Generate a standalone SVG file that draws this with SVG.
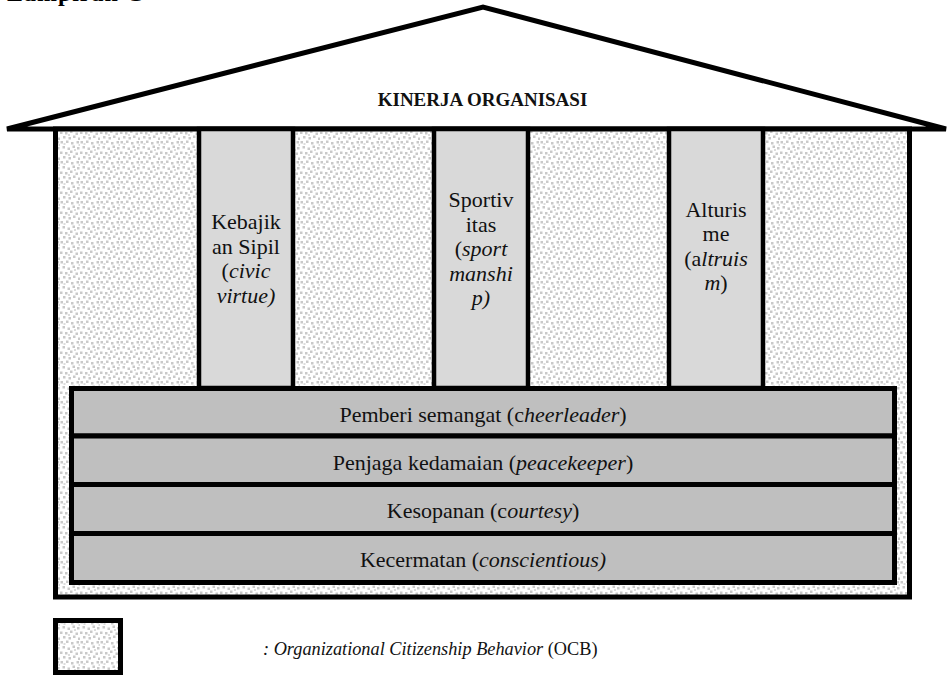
<svg xmlns="http://www.w3.org/2000/svg" width="947" height="676" viewBox="0 0 947 676">
<defs>
<pattern id="stip" width="20" height="20" patternUnits="userSpaceOnUse">
<rect width="20" height="20" fill="#ffffff"/>
<g fill="#c9c9c9">
<rect x="0.5" y="1" width="2.5" height="2.5"/><rect x="6" y="0.5" width="2.5" height="2.5"/><rect x="11" y="2" width="2.5" height="2.5"/><rect x="16.5" y="1" width="2.5" height="2.5"/>
<rect x="2.5" y="6" width="2.5" height="2.5"/><rect x="7.5" y="7.5" width="2.5" height="2.5"/><rect x="12.5" y="5.5" width="2.5" height="2.5"/><rect x="17" y="7" width="2.5" height="2.5"/>
<rect x="0" y="11.5" width="2.5" height="2.5"/><rect x="5" y="12" width="2.5" height="2.5"/><rect x="10" y="10.5" width="2.5" height="2.5"/><rect x="15.5" y="12.5" width="2.5" height="2.5"/>
<rect x="3" y="16" width="2.5" height="2.5"/><rect x="8.5" y="17" width="2.5" height="2.5"/><rect x="13" y="15.5" width="2.5" height="2.5"/><rect x="18" y="17.5" width="2" height="2.5"/>
</g>
<g fill="#dcdcdc">
<rect x="3.5" y="3" width="2" height="2"/><rect x="14" y="9" width="2" height="2"/><rect x="8" y="14" width="2" height="2"/><rect x="18.5" y="4" width="1.5" height="2"/>
</g>
</pattern>
<style>
.t{font-family:"Liberation Serif","Times New Roman",serif;font-size:22px;fill:#111;}
.i{font-style:italic;}
.pil{fill:#d9d9d9;stroke:#000;stroke-width:4.5;}
.bar{fill:#bfbfbf;stroke:#000;stroke-width:5;}
</style>
</defs>
<rect width="947" height="676" fill="#ffffff"/>
<text x="7" y="1" font-family="'Liberation Serif',serif" font-weight="bold" font-size="24" textLength="136" fill="#000">Lampiran C</text>

<g id="roof">
<polygon points="7,129 483,7 946,129" fill="#ffffff" stroke="#000" stroke-width="5"/>
<text x="482.5" y="106" text-anchor="middle" font-family="'Liberation Serif',serif" font-weight="bold" font-size="19" fill="#111">KINERJA ORGANISASI</text>
</g>

<g id="building">
<rect x="55.5" y="129" width="854" height="468" fill="url(#stip)" stroke="#000" stroke-width="5"/>
</g>

<g id="pillar-civic">
<rect class="pil" x="199" y="129" width="94" height="259"/>
<text class="t" text-anchor="middle"><tspan x="246" y="229">Kebajik</tspan><tspan x="246" y="253.5">an Sipil</tspan><tspan x="246" y="278">(<tspan class="i">civic</tspan></tspan><tspan x="246" y="302.5" class="i">virtue)</tspan></text>
</g>

<g id="pillar-sportsmanship">
<rect class="pil" x="434" y="129" width="94" height="259"/>
<text class="t" text-anchor="middle"><tspan x="481" y="207">Sportiv</tspan><tspan x="481" y="231.5">itas</tspan><tspan x="481" y="256">(<tspan class="i">sport</tspan></tspan><tspan x="481" y="280.5" class="i">manshi</tspan><tspan x="481" y="305" class="i">p)</tspan></text>
</g>

<g id="pillar-altruism">
<rect class="pil" x="669" y="129" width="94" height="259"/>
<text class="t" text-anchor="middle"><tspan x="716" y="216.5">Alturis</tspan><tspan x="716" y="241">me</tspan><tspan x="716" y="265.5">(a<tspan class="i">ltruis</tspan></tspan><tspan x="716" y="290"><tspan class="i">m</tspan>)</tspan></text>
</g>

<g id="bar-cheerleader">
<rect class="bar" x="71.5" y="388.5" width="823" height="47.5"/>
<text class="t" x="483" y="421.5" text-anchor="middle">Pemberi semangat (c<tspan class="i">heerleader</tspan>)</text>
</g>
<g id="bar-peacekeeper">
<rect class="bar" x="71.5" y="436" width="823" height="48.5"/>
<text class="t" x="483" y="469.5" text-anchor="middle">Penjaga kedamaian (<tspan class="i">peacekeeper</tspan>)</text>
</g>
<g id="bar-courtesy">
<rect class="bar" x="71.5" y="484.5" width="823" height="49"/>
<text class="t" x="483" y="518" text-anchor="middle">Kesopanan (c<tspan class="i">ourtesy</tspan>)</text>
</g>
<g id="bar-conscientious">
<rect class="bar" x="71.5" y="533.5" width="823" height="49"/>
<text class="t" x="483" y="566.5" text-anchor="middle">Kecermatan (<tspan class="i">conscientious)</tspan></text>
</g>

<g id="legend">
<rect x="55.5" y="620.5" width="65" height="52" fill="url(#stip)" stroke="#000" stroke-width="5"/>
<text x="263" y="655" font-family="'Liberation Serif',serif" font-size="18.3" fill="#111"><tspan class="i">: Organizational Citizenship Behavior</tspan> (OCB)</text>
</g>
</svg>
